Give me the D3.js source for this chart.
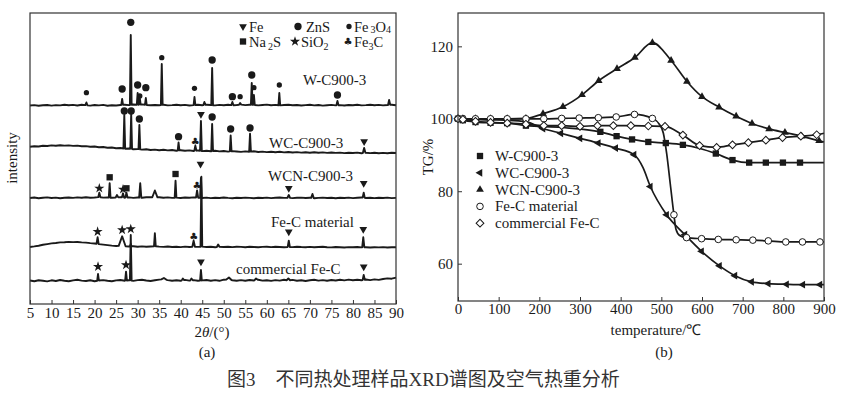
<!DOCTYPE html>
<html>
<head>
<meta charset="utf-8">
<script src="https://cdn.jsdelivr.net/npm/d3@7"></script>
<style>
  body { margin: 0; background: #fff; }
  svg  { display: block; }
  text { font-family: "Liberation Serif", "Times New Roman", serif; fill: #1a1a1a; }
</style>
</head>
<body>
<svg id="chart" width="848" height="395"></svg>
<script>
////////////////////////////////////////////////////////////////////////////////
// Data
////////////////////////////////////////////////////////////////////////////////

// (a) XRD
const xrdTicks  = [5,10,15,20,25,30,35,40,45,50,55,60,65,70,75,80,85,90];
const xrdNames  = ['W-C900-3','WC-C900-3','WCN-C900-3','Fe-C material','commercial Fe-C'];
const xrdOffsets = [198, 154, 106, 57, 23];           // stacking level of each trace

const baseTheta = [5,6,7,8,9,10,11,12,13,14,15,16,17,18,19,20,21,22,23,24,25,26,27,28,29,30,
                   31,32,33,34,35,36,37,38,39,40,41,42,43,44,45,46,47,48,49,50,51,52,53,54,55,
                   56,57,58,59,60,61,62,63,64,65,66,67,68,69,70,71,72,73,74,75,76,77,78,79,80,
                   81,82,83,84,85,86,87,88,89,90];

const baseW   = [0.5,0.9,0.2,0.7,1.0,0.4,0.9,0.6,1.2,0.7, 1.1,0.5,1.3,0.8,0.4,1.0,0.6,1.1,0.3,0.8,
                 0.5,1.0,1.3,0.9,1.5,1.2,1.6,1.1,0.7,1.0, 0.8,1.2,0.6,0.9,1.3,0.7,1.1,0.5,0.9,1.3,
                 0.8,1.2,1.0,0.6,1.1,0.8,1.3,0.7,1.0,1.4, 0.9,1.3,1.1,0.6,1.0,1.4,0.8,1.1,0.6,1.0,
                 1.3,0.7,1.0,0.5,0.9,1.2,0.6,1.0,0.4,0.8, 1.1,0.6,0.9,0.5,1.0,0.7,1.2,0.6,0.9,1.3,
                 0.8,1.1,0.6,1.0,1.3,0.8];
const baseWC  = [3.2,3.8,3.5,4.2,4.0,4.6,4.3,4.8,4.4,4.6, 4.1,4.4,3.7,3.9,3.3,3.5,2.8,3.0,2.3,2.5,
                 1.8,2.0,1.3,1.5,0.8,1.0,0.4,0.7,0.0,0.4, -0.2,0.3,-0.4,0.0,-0.7,-0.2,-0.8,-0.4,-1.0,-0.5,
                 -1.1,-0.7,-1.3,-0.8,-1.4,-1.0,-1.6,-1.1,-1.5,-1.9, -1.4,-1.8,-1.3,-2.0,-1.6,-2.1,-1.7,-2.2,-1.8,-2.4,
                 -2.0,-2.5,-2.1,-2.6,-2.2,-2.7,-2.3,-2.8,-2.4,-2.9, -2.5,-2.9,-2.6,-3.1,-2.7,-3.0,-2.6,-3.2,-2.8,-3.1,
                 -2.7,-3.2,-2.9,-3.3,-2.8,-3.0];
const baseWCN = [0.0,0.5,-0.2,0.3,0.6,0.0,0.4,-0.3,0.2,0.5, 0.1,0.6,0.2,0.7,0.3,0.5,0.9,0.4,0.6,0.2,
                 0.5,0.8,0.3,0.6,0.1,0.5,0.2,0.7,0.9,0.5, 0.8,0.3,0.6,0.1,0.4,0.0,0.5,0.2,0.6,0.3,
                 0.0,0.4,-0.1,0.3,0.0,0.5,0.1,-0.2,0.3,0.0, 0.4,0.1,-0.2,0.3,0.0,0.4,-0.1,0.2,0.5,0.1,
                 0.3,-0.1,0.2,0.4,0.0,0.3,-0.2,0.1,0.4,0.0, 0.2,-0.2,0.3,0.0,0.4,-0.1,0.2,0.5,0.0,0.3,
                 -0.1,0.2,0.0,0.4,-0.1,0.1];
const baseFeC = [0.0,0.6,1.3,2.2,2.9,3.6,4.0,4.6,4.8,5.1, 4.9,5.0,4.6,4.4,3.9,3.5,2.9,2.4,1.9,1.4,
                 1.0,1.3,0.8,0.5,0.8,0.3,0.6,0.2,0.5,0.8, 0.4,0.1,0.5,0.0,0.3,-0.1,0.4,0.0,0.3,0.1,
                 0.4,0.0,0.2,-0.2,0.3,0.0,0.2,-0.1,0.3,0.1, -0.2,0.2,0.0,-0.3,0.1,0.3,-0.1,0.2,0.0,-0.2,
                 0.1,-0.1,0.3,0.0,-0.2,0.1,-0.3,0.0,0.2,-0.2, -0.4,0.0,-0.2,-0.5,-0.1,-0.3,0.0,-0.4,-0.2,-0.5,
                 -0.2,-0.4,-0.1,-0.5,-0.3,-0.2];
const baseCom = [0.5,-0.2,0.8,0.2,-0.4,0.7,0.0,1.0,0.3,-0.3, 0.6,1.2,0.4,0.0,0.7,-0.2,0.5,0.9,0.2,-0.3,
                 0.6,1.0,0.3,0.8,0.1,0.9,1.3,0.5,0.0,0.7, 1.4,1.8,0.9,0.3,0.8,0.2,1.1,0.4,0.9,0.2,
                 0.6,1.0,0.3,0.9,0.2,1.3,1.7,0.8,0.3,0.9, 0.2,1.0,0.5,1.3,0.4,0.8,0.1,0.9,0.4,1.2,
                 0.5,1.1,0.3,0.8,0.0,0.7,1.2,0.4,0.9,0.2, 1.0,0.5,1.3,0.6,1.4,0.8,1.2,0.7,1.5,0.9,
                 1.6,1.1,2.0,2.6,2.3,3.4];
const xrdBase = [baseW, baseWC, baseWCN, baseFeC, baseCom];

// peaks: [2theta, top level above the trace's stacking level, half width]
const peaksW   = [[18.1,3.5,.25],[26.4,7,.2],[28.4,71,.2],[30.0,13,.2],[30.5,8,.2],[31.9,8,.2],[35.6,42,.2],
                  [43.2,9,.2],[45.5,4,.25],[47.3,38,.2],[52.0,4,.25],[53.8,3,.25],[56.5,23,.2],[57.0,11,.2],
                  [62.9,13,.2],[76.4,5,.25],[88.4,6,.25]];
const peaksWC  = [[26.9,35,.2],[28.5,36,.2],[30.4,25,.2],[39.5,7.5,.2],[43.4,4.3,.25],[44.7,29,.2],
                  [47.3,26,.2],[51.6,14.5,.2],[56.1,16.3,.2],[82.6,2,.3]];
const peaksWCN = [[21.1,5.3,.25],[23.5,14.7,.2],[25.2,3,.3],[26.6,4.7,.25],[27.4,5.3,.25],[30.6,14.7,.25],
                  [34.0,7.5,.6],[38.8,17.3,.2],[43.8,7.5,.25],[44.7,20,.2],[65.1,3,.3],[70.6,4,.3],[82.5,5.3,.25]];
const peaksFeC = [[20.7,9.7,.25],[26.4,10.7,.8],[28.4,3,.2],[34.0,13.7,.2],[43.0,6.3,.3],[44.8,70.3,.2],
                  [48.7,2.5,.3],[65.1,6.3,.25],[82.4,9.7,.25]];
const peaksCom = [[20.8,7,.2],[27.3,9.3,.2],[28.4,46,.2],[36.1,3,.6],[40.5,2.5,.3],[42.5,2.5,.3],
                  [44.7,11,.2],[51.2,3.5,.6],[57.5,2.5,.4],[65.0,2.5,.4],[82.5,6,.25]];
const xrdPeaks = [peaksW, peaksWC, peaksWCN, peaksFeC, peaksCom];

// phase markers: [phase, 2theta, level above the trace's stacking level]
const marksW   = [['Fe3O4',18.1,13.3],['ZnS',26.4,17],['ZnS',28.4,83.7],['ZnS',30.0,21],['Fe3O4',30.5,10],
                  ['ZnS',31.9,18.3],['Fe3O4',35.6,48.3],['Fe3O4',43.2,17.7],['ZnS',47.3,46],['ZnS',52.0,9.3],
                  ['Fe3O4',53.8,9.3],['ZnS',56.5,31],['Fe3O4',57.0,18.3],['Fe3O4',62.9,21],['ZnS',76.4,11]];
const marksWC  = [['ZnS',26.9,39],['ZnS',28.5,39],['ZnS',30.4,31],['ZnS',39.5,13.3],['Fe3C',43.4,9],
                  ['Fe',44.7,35.7],['ZnS',47.3,33],['ZnS',51.6,21],['ZnS',56.1,22],['Fe',82.6,8.5]];
const marksWCN = [['SiO2',21.1,9.7],['Na2S',23.5,20.7],['SiO2',26.6,8.7],['Na2S',27.4,9.7],['Na2S',38.8,24],
                  ['Fe3C',43.8,13],['Fe',44.6,34],['Fe',65.1,9.7],['Fe',82.5,14.7]];
const marksFeC = [['SiO2',20.7,15.3],['SiO2',26.4,17],['SiO2',28.4,18],['Fe3C',43.0,11],['Fe',65.1,15.3],['Fe',82.4,17.7]];
const marksCom = [['SiO2',20.8,14.3],['SiO2',27.3,16],['Fe',44.7,19.3],['Fe',82.5,14.3]];
const xrdMarks = [marksW, marksWC, marksWCN, marksFeC, marksCom];

// (b) TG in air: [temperature, TG %, marker drawn]
const tgXTicks = [0,100,200,300,400,500,600,700,800,900];
const tgYTicks = [60,80,100,120];
const tgNames  = ['W-C900-3','WC-C900-3','WCN-C900-3','Fe-C material','commercial Fe-C'];

const tgW   = [[0,100,1],[12,99.6,1],[43,99.1,1],[80,98.9,1],[121,98.8,1],[167,98.1,1],[255,97.6,0],
               [350,96.4,1],[390,95.2,1],[428,94.3,1],[468,93.6,1],[511,93.3,1],[553,92.8,1],[595,91.8,0],
               [634,90.4,1],[675,88.6,1],[716,87.9,1],[757,87.9,1],[799,87.9,1],[841,87.9,1],[900,87.9,0]];
const tgWC  = [[0,100,1],[12,100,1],[43,99.8,1],[80,99.7,1],[121,99.6,1],[167,99.2,1],[209,97.3,1],
               [253,96.0,1],[300,94.6,1],[345,93.3,1],[388,91.9,1],[433,90.1,1],[455,86.5,0],[473,81.3,1],
               [513,73.5,1],[558,68.0,1],[599,63.4,1],[643,59.4,1],[681,56.7,1],[722,55.0,1],[763,54.5,1],
               [808,54.3,1],[848,54.2,1],[890,54.2,1],[900,54.2,0]];
const tgWCN = [[0,100,1],[12,100,1],[43,100,1],[80,100,1],[121,100,1],[167,100.1,1],[209,101.4,1],
               [258,103.3,1],[305,106.6,1],[346,110.5,1],[391,113.8,1],[435,116.9,1],[478,121,1],
               [524,116.1,1],[563,110.3,1],[600,106.1,1],[642,103.2,1],[684,100.7,1],[723,98.7,1],
               [765,97.2,1],[804,96.2,1],[845,95.2,1],[888,93.9,1],[900,93.6,0]];
const tgFeC = [[0,100,1],[12,100,1],[43,100,1],[80,100,1],[121,100,1],[167,100,1],[211,100,1],
               [255,100.1,1],[298,100.2,1],[345,100.3,1],[389,100.5,1],[434,101.2,1],[478,100.1,1],
               [495,98.5,0],[505,96,0],[513,90.5,0],[522,82,0],[531,73.5,1],[536,69.5,0],[545,67.8,0],
               [562,67.2,1],[599,66.9,1],[640,66.7,1],[684,66.6,1],[725,66.5,1],[763,66.3,1],
               [806,66.0,1],[847,66.0,1],[890,66.0,1],[900,66.0,0]];
const tgCom = [[0,100,1],[12,99.8,1],[43,99.3,1],[80,99.0,1],[121,98.8,1],[167,98.5,1],[211,98.1,1],
               [255,98.1,1],[300,97.9,1],[343,98.1,1],[382,98.1,1],[425,98.1,1],[468,98.0,1],[509,97.9,1],
               [553,95.5,1],[594,92.6,1],[636,92.1,1],[675,92.8,1],[714,93.4,1],[757,94.1,1],[798,94.8,1],
               [843,95.2,1],[882,95.6,1],[900,96.0,0]];
const tgSeries = [tgW, tgWC, tgWCN, tgFeC, tgCom];

////////////////////////////////////////////////////////////////////////////////

const INK = '#1a1a1a';
const svg = d3.select('#chart');

// Draws one XRD phase marker.
function phaseMark(g, phase, x, y) {
  if (phase === 'Fe3C') {
    g.append('text').attr('x', x).attr('y', y).attr('text-anchor', 'middle')
      .attr('dominant-baseline', 'central').style('font-family', 'DejaVu Sans')
      .attr('font-size', 10).text('\u2663');
    return;
  }
  const sym = {
    Fe:    [d3.symbolTriangle, 26, 180],
    ZnS:   [d3.symbolCircle,   42, 0],
    Fe3O4: [d3.symbolCircle,   22, 0],
    Na2S:  [d3.symbolSquare,   40, 0],
    SiO2:  [d3.symbolStar,     32, 0]
  }[phase];
  g.append('path').attr('d', d3.symbol(sym[0], sym[1])())
    .attr('transform', `translate(${x},${y}) rotate(${sym[2]})`).attr('fill', INK);
}

// Draws one TG marker.
function tgMark(g, i, x, y) {
  const t = `translate(${x},${y})`;
  if (i === 0) g.append('path').attr('d', d3.symbol(d3.symbolSquare, 40)()).attr('transform', t).attr('fill', INK);
  if (i === 1) g.append('path').attr('d', d3.symbol(d3.symbolTriangle, 26)()).attr('transform', t + ' rotate(-90)').attr('fill', INK);
  if (i === 2) g.append('path').attr('d', d3.symbol(d3.symbolTriangle, 26)()).attr('transform', t).attr('fill', INK);
  if (i === 3) g.append('circle').attr('cx', x).attr('cy', y).attr('r', 3.3)
    .attr('fill', '#fff').attr('stroke', INK).attr('stroke-width', 1);
  if (i === 4) g.append('path').attr('d', d3.symbol(d3.symbolSquare, 30)()).attr('transform', t + ' rotate(45)')
    .attr('fill', '#fff').attr('stroke', INK).attr('stroke-width', 1);
}

function styleAxis(g) {
  g.select('.domain').remove();
  g.attr('font-size', 15).attr('font-family', '"Liberation Serif", serif').attr('color', INK);
  g.selectAll('line').attr('stroke', '#333');
}

////////////////////////////////////////////////////////////////////////////////
// (a) XRD panel
////////////////////////////////////////////////////////////////////////////////
const xL = d3.scaleLinear([5, 90], [30, 396]);
const yL = d3.scaleLinear([0, 291], [304, 13]);

svg.append('g').attr('transform', 'translate(0,304)')
  .call(d3.axisBottom(xL).tickValues(xrdTicks).tickSize(-4).tickPadding(3))
  .call(styleAxis);

const traceG = svg.append('g');
xrdNames.forEach((name, i) => {
  const off   = xrdOffsets[i];
  const base  = d3.scaleLinear(baseTheta, xrdBase[i]);
  const peaks = xrdPeaks[i];
  let pts = baseTheta.map((t, k) => [t, xrdBase[i][k]])
    .filter(p => !peaks.some(q => Math.abs(p[0] - q[0]) < q[2]));
  peaks.forEach(q => pts.push([q[0] - q[2], base(q[0] - q[2])], [q[0], q[1]], [q[0] + q[2], base(q[0] + q[2])]));
  pts.sort((a, b) => a[0] - b[0]);
  traceG.append('path')
    .attr('d', d3.line().x(p => xL(p[0])).y(p => yL(off + p[1]))(pts))
    .attr('fill', 'none').attr('stroke', INK).attr('stroke-width', 1.9).attr('stroke-linejoin', 'round');
  xrdMarks[i].forEach(m => phaseMark(traceG, m[0], xL(m[1]), yL(off + m[2])));
});

// trace labels
const traceLabelPos = [[303, 85], [269, 148], [268, 181], [271, 227], [236, 274]];
xrdNames.forEach((name, i) => {
  svg.append('text').attr('x', traceLabelPos[i][0]).attr('y', traceLabelPos[i][1])
    .attr('font-size', 15).text(name);
});

// phase legend
const legA = svg.append('g').attr('font-size', 14.5);
phaseMark(legA, 'Fe', 243, 26.5);
legA.append('text').attr('x', 249).attr('y', 31.5).text('Fe');
phaseMark(legA, 'ZnS', 298, 26.5);
legA.append('text').attr('x', 306).attr('y', 31.5).text('ZnS');
phaseMark(legA, 'Fe3O4', 349, 26.5);
legA.append('text').attr('x', 354).attr('y', 31.5)
  .call(t => { t.append('tspan').text('Fe');
               t.append('tspan').attr('font-size', 10).attr('dx', 2).attr('dy', 1.5).text('3');
               t.append('tspan').attr('dy', -1.5).text('O');
               t.append('tspan').attr('font-size', 10).attr('dy', 1.5).text('4'); });
phaseMark(legA, 'Na2S', 243, 41.5);
legA.append('text').attr('x', 249).attr('y', 47)
  .call(t => { t.append('tspan').text('Na');
               t.append('tspan').attr('font-size', 10).attr('dx', 2).attr('dy', 3).text('2');
               t.append('tspan').attr('dy', -3).text('S'); });
phaseMark(legA, 'SiO2', 295, 41.5);
legA.append('text').attr('x', 301).attr('y', 47)
  .call(t => { t.append('tspan').text('SiO');
               t.append('tspan').attr('font-size', 10).attr('dy', 3).text('2'); });
phaseMark(legA, 'Fe3C', 348, 41.5);
legA.append('text').attr('x', 354).attr('y', 47)
  .call(t => { t.append('tspan').text('Fe');
               t.append('tspan').attr('font-size', 10).attr('dy', 3).text('3');
               t.append('tspan').attr('dy', -3).text('C'); });

svg.append('rect').attr('x', 30).attr('y', 13).attr('width', 366).attr('height', 291)
  .attr('fill', 'none').attr('stroke', '#333').attr('stroke-width', 1.2);

svg.append('text').attr('transform', 'translate(17,158) rotate(-90)').attr('text-anchor', 'middle')
  .attr('font-size', 15).text('intensity');
svg.append('text').attr('x', 212).attr('y', 337).attr('text-anchor', 'middle').attr('font-size', 15)
  .call(t => { t.append('tspan').text('2');
               t.append('tspan').attr('font-style', 'italic').text('\u03b8');
               t.append('tspan').text('/(\u00b0)'); });
svg.append('text').attr('x', 207).attr('y', 357).attr('text-anchor', 'middle').attr('font-size', 15).text('(a)');

////////////////////////////////////////////////////////////////////////////////
// (b) TG panel
////////////////////////////////////////////////////////////////////////////////
const xR = d3.scaleLinear([0, 900], [458, 824]);
const yR = d3.scaleLinear([49.7, 129.2], [301, 13]);

svg.append('g').attr('transform', 'translate(0,301)')
  .call(d3.axisBottom(xR).tickValues(tgXTicks).tickSize(-4).tickPadding(2.5))
  .call(styleAxis);
svg.append('g').attr('transform', 'translate(458,0)')
  .call(d3.axisLeft(yR).tickValues(tgYTicks).tickSize(-4).tickPadding(5))
  .call(styleAxis);

const tgLine = d3.line().x(d => xR(d[0])).y(d => yR(d[1])).curve(d3.curveMonotoneX);
const tgG = svg.append('g');
tgSeries.forEach(s => {
  tgG.append('path').attr('d', tgLine(s)).attr('fill', 'none').attr('stroke', INK).attr('stroke-width', 1.7);
});
tgSeries.forEach((s, i) => {
  s.filter(d => d[2]).forEach(d => tgMark(tgG, i, xR(d[0]), yR(d[1])));
});

// legend
tgNames.forEach((name, i) => {
  const y = 156 + i * 16.8;
  tgMark(svg, i, 480, y);
  svg.append('text').attr('x', 495).attr('y', y + 5).attr('font-size', 15).text(name);
});

svg.append('rect').attr('x', 458).attr('y', 13).attr('width', 366).attr('height', 288)
  .attr('fill', 'none').attr('stroke', '#333').attr('stroke-width', 1.2);

svg.append('text').attr('transform', 'translate(433,157) rotate(-90)').attr('text-anchor', 'middle')
  .attr('font-size', 15).text('TG/%');
svg.append('text').attr('x', 656).attr('y', 335).attr('text-anchor', 'middle').attr('font-size', 15)
  .text('temperature/\u2103');
svg.append('text').attr('x', 664).attr('y', 357).attr('text-anchor', 'middle').attr('font-size', 15).text('(b)');

////////////////////////////////////////////////////////////////////////////////
// Caption
////////////////////////////////////////////////////////////////////////////////
svg.append('text').attr('x', 227).attr('y', 386).attr('font-size', 19)
  .style('font-family', '"Noto Sans CJK SC", sans-serif').style('fill', '#333')
  .call(t => { t.append('tspan').text('图');
               t.append('tspan').style('font-family', '"Liberation Serif", serif').text('3');
               t.append('tspan').attr('dx', 20).text('不同热处理样品');
               t.append('tspan').style('font-family', '"Liberation Serif", serif').text('XRD');
               t.append('tspan').text('谱图及空气热重分析'); });
</script>
</body>
</html>
